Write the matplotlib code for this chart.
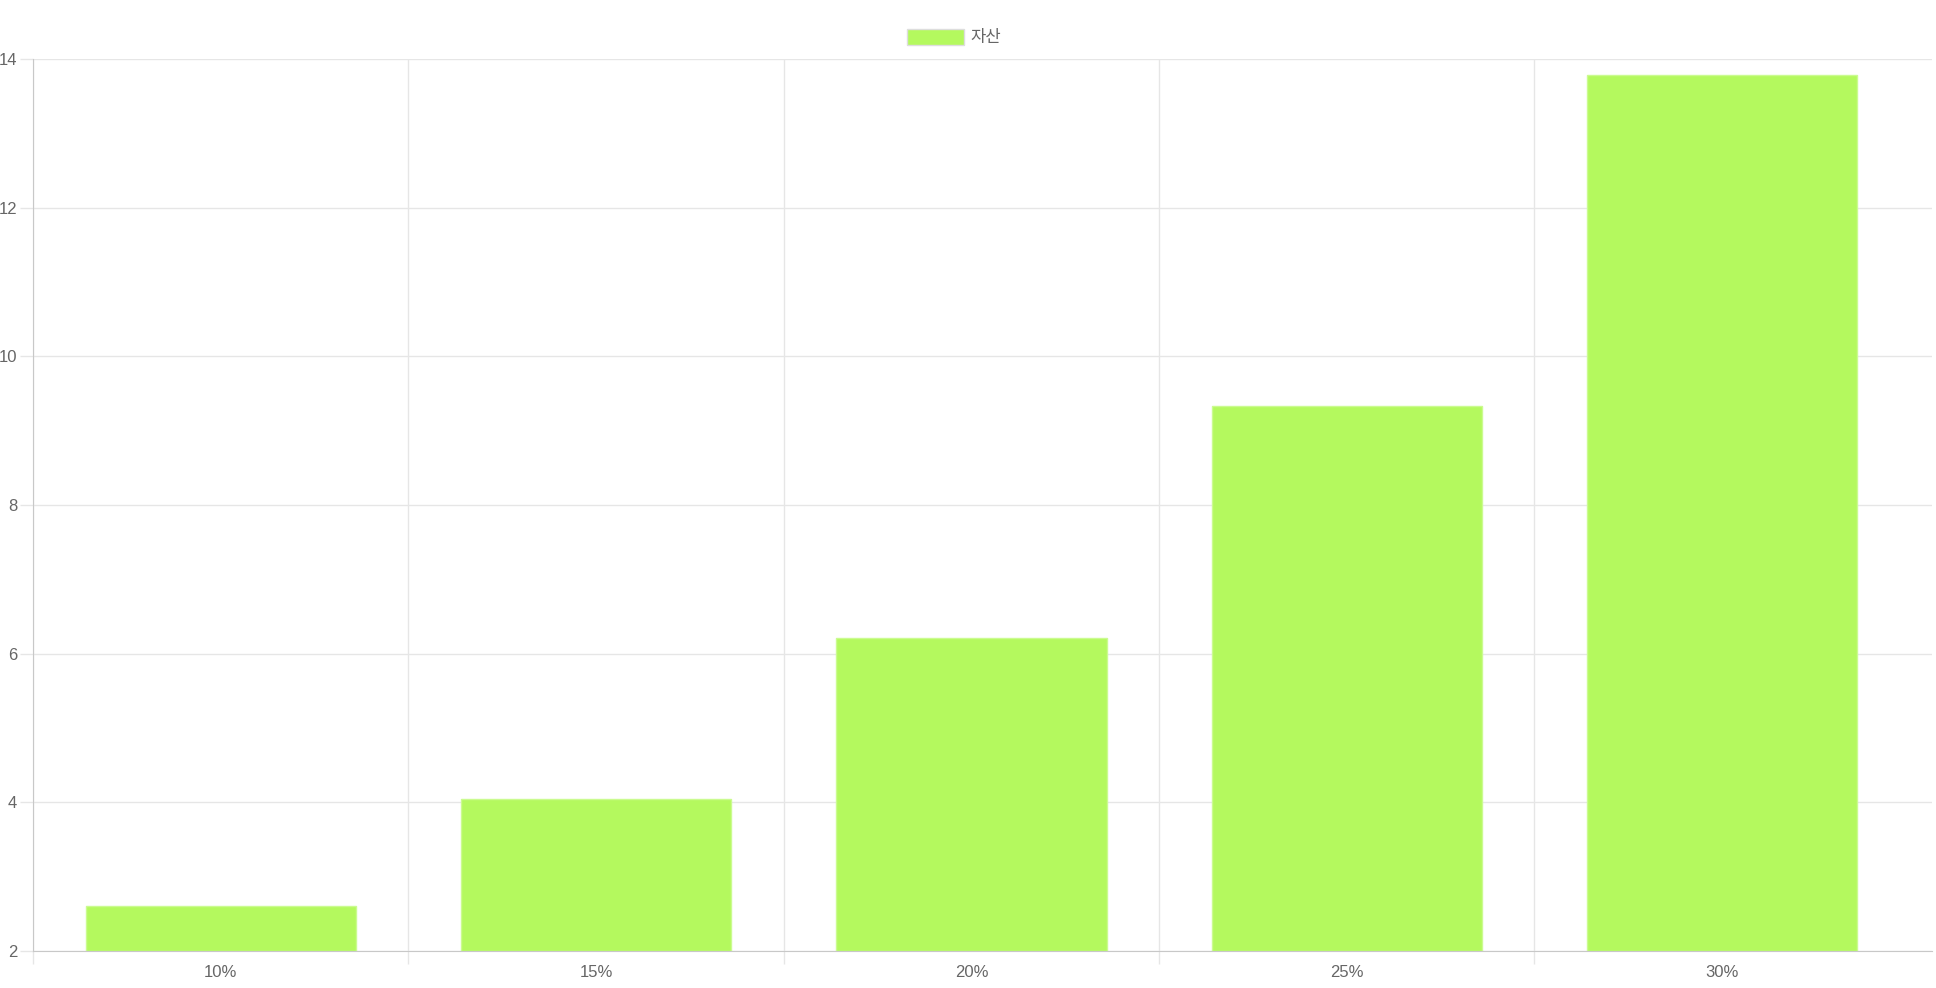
import matplotlib
matplotlib.use('Agg')
import matplotlib.pyplot as plt
import numpy as np

plt.rcParams['font.family'] = ['Liberation Sans', 'Noto Sans CJK KR', 'DejaVu Sans']

# data
categories = ['10%', '15%', '20%', '25%', '30%']
assets = [2.6, 4.05, 6.21, 9.33, 13.79]
series_name = '자산'
y_ticks = [2, 4, 6, 8, 10, 12, 14]

bar_color = '#b4f95e'
grid_color = '#e6e6e6'
axis_color = '#c8c8c8'
text_color = '#666666'

fig = plt.figure(figsize=(19.36, 9.88), dpi=100)
ax = fig.add_axes([33 / 1936, 1 - 951 / 988, (1932 - 33) / 1936, (951 - 59) / 988])

x = np.arange(len(categories))
ax.bar(x, [v - 2 for v in assets], bottom=2, width=0.72, color=bar_color,
       edgecolor='#cbfb90', linewidth=1, label=series_name, zorder=2)

# the grid runs a little past the last category
ax.set_xlim(-0.5, len(categories) - 0.5 + 0.059)
ax.set_ylim(2, 14)
ax.set_yticks(y_ticks)
ax.set_yticklabels([str(t) for t in y_ticks])

# category labels centred, gridlines on category boundaries
ax.set_xticks(x)
ax.set_xticklabels(categories)
ax.set_xticks(np.arange(-0.5, len(categories) - 1), minor=True)
ax.tick_params(axis='x', which='major', length=0, pad=10, labelsize=12, labelcolor=text_color)
ax.tick_params(axis='x', which='minor', length=9, color=grid_color, width=1)
ax.tick_params(axis='y', length=9.5, color=grid_color, width=1, pad=2, labelsize=12, labelcolor=text_color)

ax.grid(True, axis='y', color=grid_color, linewidth=1, zorder=0)
ax.grid(True, axis='x', which='minor', color=grid_color, linewidth=1, zorder=0)
ax.set_axisbelow(True)

for side in ['top', 'right']:
    ax.spines[side].set_visible(False)
ax.spines['left'].set_color(axis_color)
ax.spines['bottom'].set_color(axis_color)

leg = fig.legend(loc='center left', bbox_to_anchor=(907 / 1936, 1 - 37 / 988), frameon=False,
                 fontsize=12, handlelength=3.4, handleheight=1.1, handletextpad=0.4,
                 borderpad=0, borderaxespad=0)
for t in leg.get_texts():
    t.set_color(text_color)
for h in leg.legend_handles:
    h.set_edgecolor('#dddddd')

fig.savefig('out.png', dpi=100)
